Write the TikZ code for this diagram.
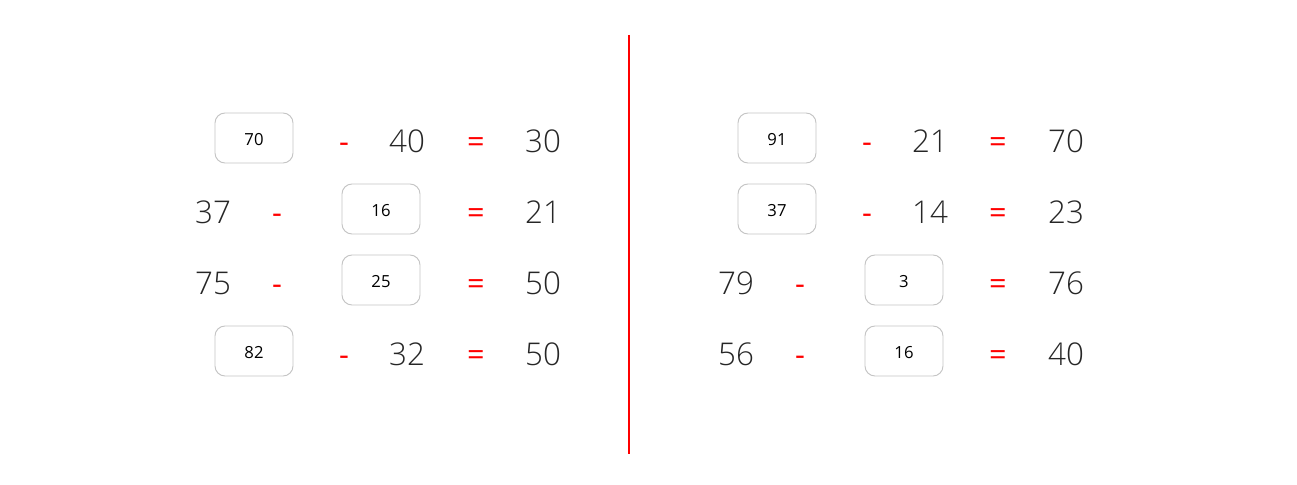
\documentclass[tikz,border=0pt]{standalone}
\usepackage{fontspec}
\setmainfont{Open Sans}
\IfFontExistsTF{Open Sans Light}{\newfontfamily\numfont{Open Sans Light}}{\newfontfamily\numfont{Open Sans}}
\usetikzlibrary{positioning}
\definecolor{numgray}{HTML}{262626}
\definecolor{boxgray}{HTML}{C4C4C4}
\definecolor{opred}{HTML}{FF0000}
\begin{document}
\begin{tikzpicture}[x=0.75pt, y=-0.75pt]
    \tikzstyle{every node}=[inner sep=0pt, align=center]
    \tikzset{
        num/.style={anchor=base, font=\numfont\fontsize{23.5}{26}\selectfont, text=numgray, yshift=-10.5pt},
        op/.style={anchor=base, font=\fontsize{23}{26}\selectfont, text=opred, yshift=-10.5pt},
        blank/.style={draw=boxgray, line width=0.7pt, rounded corners=7.5pt, minimum width=58.5pt, minimum height=37.5pt, text height=11pt, text depth=0pt, font=\fontsize{12.5}{14}\selectfont}
        }
    \useasboundingbox (0,0) rectangle (1297,485);

    %divider
    \coordinate (top) at (629,35);
    \coordinate (bottom) at (629,454);
    \draw[opred, line width=1.5pt] (top) -- (bottom);

    %left, row 1
    \node (lbox1) [blank] at (254,138) {70};
    \node (lminus1) [op] at (344,138) {-};
    \node (lnum1) [num] at (407,138) {40};
    \node (leq1) [op] at (476,138) {=};
    \node (lres1) [num] at (543,138) {30};

    %left, row 2
    \node (lnum2) [num] at (213,209) {37};
    \node (lminus2) [op] at (277,209) {-};
    \node (lbox2) [blank] at (381,209) {16};
    \node (leq2) [op] at (476,209) {=};
    \node (lres2) [num] at (543,209) {21};

    %left, row 3
    \node (lnum3) [num] at (213,280) {75};
    \node (lminus3) [op] at (277,280) {-};
    \node (lbox3) [blank] at (381,280) {25};
    \node (leq3) [op] at (476,280) {=};
    \node (lres3) [num] at (543,280) {50};

    %left, row 4
    \node (lbox4) [blank] at (254,351) {82};
    \node (lminus4) [op] at (344,351) {-};
    \node (lnum4) [num] at (407,351) {32};
    \node (leq4) [op] at (476,351) {=};
    \node (lres4) [num] at (543,351) {50};

    %right, row 1
    \node (rbox1) [blank] at (777,138) {91};
    \node (rminus1) [op] at (867,138) {-};
    \node (rnum1) [num] at (930,138) {21};
    \node (req1) [op] at (998,138) {=};
    \node (rres1) [num] at (1066,138) {70};

    %right, row 2
    \node (rbox2) [blank] at (777,209) {37};
    \node (rminus2) [op] at (867,209) {-};
    \node (rnum2) [num] at (930,209) {14};
    \node (req2) [op] at (998,209) {=};
    \node (rres2) [num] at (1066,209) {23};

    %right, row 3
    \node (rnum3) [num] at (736,280) {79};
    \node (rminus3) [op] at (800,280) {-};
    \node (rbox3) [blank] at (904,280) {3};
    \node (req3) [op] at (998,280) {=};
    \node (rres3) [num] at (1066,280) {76};

    %right, row 4
    \node (rnum4) [num] at (736,351) {56};
    \node (rminus4) [op] at (800,351) {-};
    \node (rbox4) [blank] at (904,351) {16};
    \node (req4) [op] at (998,351) {=};
    \node (rres4) [num] at (1066,351) {40};
\end{tikzpicture}
\end{document}
